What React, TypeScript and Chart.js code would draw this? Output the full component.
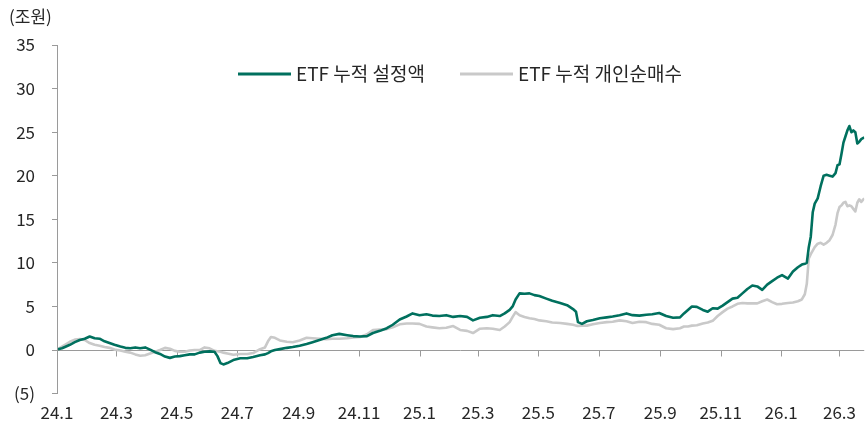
import React, { useEffect, useRef } from "react";
import { Chart, registerables } from "chart.js";

Chart.register(...registerables);

const unitLabel = "(조원)";
const seriesNames = ["ETF 누적 설정액", "ETF 누적 개인순매수"];
const seriesColors = ["#00705E", "#C9C9C9"];

const dates = [
  "2024-01-02", "2024-01-06", "2024-01-09", "2024-01-14", "2024-01-19", "2024-01-24", "2024-01-29",
  "2024-02-03", "2024-02-08", "2024-02-13", "2024-02-18", "2024-02-23", "2024-02-28",
  "2024-03-05", "2024-03-10", "2024-03-15", "2024-03-20", "2024-03-25", "2024-03-30",
  "2024-04-04", "2024-04-09", "2024-04-14", "2024-04-19", "2024-04-24", "2024-04-29",
  "2024-05-04", "2024-05-09", "2024-05-14", "2024-05-19", "2024-05-24", "2024-05-29",
  "2024-06-03", "2024-06-08", "2024-06-11", "2024-06-14", "2024-06-17", "2024-06-21", "2024-06-27",
  "2024-07-04", "2024-07-11", "2024-07-17", "2024-07-24", "2024-07-29",
  "2024-08-01", "2024-08-04", "2024-08-08", "2024-08-13", "2024-08-20", "2024-08-26",
  "2024-09-02", "2024-09-09", "2024-09-15", "2024-09-22", "2024-09-29",
  "2024-10-05", "2024-10-12", "2024-10-20", "2024-10-26",
  "2024-11-02", "2024-11-09", "2024-11-15", "2024-11-22", "2024-11-29",
  "2024-12-05", "2024-12-12", "2024-12-19", "2024-12-25",
  "2025-01-01", "2025-01-08", "2025-01-14", "2025-01-21", "2025-01-28",
  "2025-02-04", "2025-02-11", "2025-02-18", "2025-02-24",
  "2025-03-03", "2025-03-10", "2025-03-16", "2025-03-23", "2025-03-28",
  "2025-04-02", "2025-04-05", "2025-04-08", "2025-04-12", "2025-04-17", "2025-04-22", "2025-04-27",
  "2025-05-02", "2025-05-09", "2025-05-15", "2025-05-23", "2025-05-30",
  "2025-06-05", "2025-06-08", "2025-06-10", "2025-06-14", "2025-06-19", "2025-06-25",
  "2025-07-02", "2025-07-09", "2025-07-15", "2025-07-22", "2025-07-29",
  "2025-08-04", "2025-08-11", "2025-08-18", "2025-08-24", "2025-08-31",
  "2025-09-07", "2025-09-14", "2025-09-21", "2025-09-25", "2025-09-29",
  "2025-10-03", "2025-10-08", "2025-10-14", "2025-10-19", "2025-10-24", "2025-10-29",
  "2025-11-03", "2025-11-08", "2025-11-13", "2025-11-18", "2025-11-23", "2025-11-28",
  "2025-12-03", "2025-12-08", "2025-12-13", "2025-12-18", "2025-12-23", "2025-12-28",
  "2026-01-02", "2026-01-08", "2026-01-13", "2026-01-18", "2026-01-22", "2026-01-25",
  "2026-01-27", "2026-01-29", "2026-01-31",
  "2026-02-02", "2026-02-04", "2026-02-07", "2026-02-10", "2026-02-13", "2026-02-16",
  "2026-02-19", "2026-02-22", "2026-02-25", "2026-02-27",
  "2026-03-01", "2026-03-03", "2026-03-05", "2026-03-07", "2026-03-09", "2026-03-11",
  "2026-03-13", "2026-03-15", "2026-03-17", "2026-03-19", "2026-03-21", "2026-03-23", "2026-03-26",
];

const etfCreation = [
  0.1, 0.2, 0.35, 0.6, 0.9, 1.15, 1.3,
  1.55, 1.35, 1.3, 1.0, 0.8, 0.6,
  0.4, 0.25, 0.2, 0.3, 0.2, 0.3,
  0.05, -0.25, -0.45, -0.75, -0.9, -0.75,
  -0.7, -0.6, -0.5, -0.5, -0.3, -0.2,
  -0.15, -0.2, -0.7, -1.5, -1.65, -1.5, -1.15,
  -0.95, -0.95, -0.8, -0.6, -0.5,
  -0.35, -0.15, 0.0, 0.1, 0.25, 0.35,
  0.5, 0.7, 0.9, 1.15, 1.4,
  1.7, 1.85, 1.7, 1.6,
  1.55, 1.6, 1.95, 2.2, 2.5,
  2.9, 3.5, 3.85, 4.2,
  4.0, 4.1, 3.95, 3.9, 4.0,
  3.8, 3.9, 3.8, 3.4,
  3.7, 3.8, 4.0, 3.9, 4.2,
  4.6, 5.0, 5.8, 6.5, 6.45, 6.5, 6.3,
  6.2, 5.9, 5.65, 5.4, 5.15,
  4.7, 4.4, 3.2, 3.0, 3.3, 3.45,
  3.65, 3.75, 3.85, 4.0, 4.2,
  4.0, 3.95, 4.05, 4.1, 4.25,
  3.9, 3.7, 3.75, 4.2, 4.6,
  5.0, 4.95, 4.6, 4.4, 4.8, 4.75,
  5.1, 5.5, 5.9, 6.0, 6.5, 7.0,
  7.4, 7.3, 6.9, 7.5, 7.9, 8.3,
  8.6, 8.2, 9.0, 9.5, 9.8, 9.9,
  10.0, 11.8, 13.0,
  15.8, 16.8, 17.4, 18.8, 20.0, 20.1,
  20.0, 19.9, 20.3, 21.2,
  21.3, 22.5, 23.8, 24.5, 25.2, 25.7,
  25.0, 25.2, 25.0, 23.7, 23.9, 24.2, 24.4,
];

const etfRetail = [
  0.1, 0.4, 0.6, 0.95, 1.2, 1.25, 1.15,
  0.8, 0.6, 0.5, 0.35, 0.25, 0.05,
  -0.05, -0.2, -0.3, -0.5, -0.65, -0.6,
  -0.4, -0.2, 0.0, 0.25, 0.15, -0.1,
  -0.2, -0.2, -0.05, 0.0, 0.0, 0.3,
  0.2, -0.1, -0.15, -0.2, -0.3, -0.4, -0.55,
  -0.45, -0.45, -0.35, 0.1, 0.3,
  1.0, 1.5, 1.4, 1.1, 0.95, 0.9,
  1.1, 1.4, 1.35, 1.3, 1.25,
  1.3, 1.3, 1.35, 1.45,
  1.5, 1.8, 2.3, 2.35, 2.4,
  2.6, 2.95, 3.05, 3.05,
  3.0, 2.7, 2.6, 2.5, 2.55,
  2.75, 2.3, 2.2, 1.95,
  2.45, 2.5, 2.45, 2.3, 2.7,
  3.2, 3.8, 4.35, 4.0, 3.8, 3.65, 3.55,
  3.4, 3.3, 3.15, 3.1, 3.0,
  2.9, 2.8, 2.75, 2.8, 2.8, 2.95,
  3.1, 3.2, 3.25, 3.4, 3.3,
  3.1, 3.25, 3.2, 3.0, 2.9,
  2.5, 2.4, 2.5, 2.7, 2.7,
  2.8, 2.85, 3.05, 3.15, 3.35, 3.9,
  4.35, 4.75, 5.0, 5.3, 5.4, 5.35,
  5.35, 5.35, 5.6, 5.8, 5.5, 5.25,
  5.3, 5.4, 5.45, 5.6, 5.8, 6.4,
  7.6, 10.5, 11.0,
  11.4, 11.8, 12.2, 12.3, 12.1, 12.3,
  12.6, 13.2, 14.4, 15.7,
  16.4, 16.6, 16.9, 17.0, 16.5, 16.6,
  16.5, 16.2, 15.9, 16.9, 17.3, 17.0, 17.4,
];

const axisStart = "2024-01-01";
const axisEnd = "2026-03-26";
const tickDates = [
  "2024-01-01", "2024-03-01", "2024-05-01", "2024-07-01", "2024-09-01", "2024-11-01",
  "2025-01-01", "2025-03-01", "2025-05-01", "2025-07-01", "2025-09-01", "2025-11-01",
  "2026-01-01", "2026-03-01",
];
const tickLabels = [
  "24.1", "24.3", "24.5", "24.7", "24.9", "24.11",
  "25.1", "25.3", "25.5", "25.7", "25.9", "25.11",
  "26.1", "26.3",
];
const yMin = -5;
const yMax = 35;
const yStep = 5;

const FONT = '"Noto Sans CJK KR", "Noto Sans", sans-serif';
const TEXT_COLOR = "#262626";
const AXIS_COLOR = "#9A9A9A";

function dayOf(s: string): number {
  const [y, m, d] = s.split("-").map(Number);
  const [y0, m0, d0] = axisStart.split("-").map(Number);
  return Math.round((Date.UTC(y, m - 1, d) - Date.UTC(y0, m0 - 1, d0)) / 86400000);
}

const zeroAxisPlugin = {
  id: "zeroAxis",
  beforeDatasetsDraw(chart: any) {
    const { ctx, chartArea, scales } = chart;
    const y0 = Math.round(scales.y.getPixelForValue(0)) + 0.5;
    ctx.save();
    ctx.strokeStyle = AXIS_COLOR;
    ctx.lineWidth = 1;
    ctx.beginPath();
    ctx.moveTo(chartArea.left, y0);
    ctx.lineTo(chartArea.right, y0);
    tickDates.forEach((d) => {
      const x = Math.round(scales.x.getPixelForValue(dayOf(d))) + 0.5;
      ctx.moveTo(x, y0);
      ctx.lineTo(x, y0 + 6);
    });
    ctx.stroke();
    ctx.restore();
  },
};

const legendStarts = [238, 460];

const labelsPlugin = {
  id: "labels",
  afterDraw(chart: any) {
    const { ctx } = chart;
    ctx.save();
    ctx.fillStyle = TEXT_COLOR;
    ctx.textBaseline = "middle";
    ctx.textAlign = "left";
    ctx.font = `17px ${FONT}`;
    ctx.fillText(unitLabel, 9, 17);

    ctx.font = `19px ${FONT}`;
    const lineLen = 53;
    const textGap = 5;
    const y = 74;
    seriesNames.forEach((name, i) => {
      const x = legendStarts[i];
      ctx.strokeStyle = seriesColors[i];
      ctx.lineWidth = 3;
      ctx.beginPath();
      ctx.moveTo(x, y);
      ctx.lineTo(x + lineLen, y);
      ctx.stroke();
      ctx.fillStyle = TEXT_COLOR;
      ctx.fillText(name, x + lineLen + textGap, y);
    });
    ctx.restore();
  },
};

export default function App() {
  const ref = useRef<HTMLCanvasElement | null>(null);

  useEffect(() => {
    if (!ref.current) return;
    const xs = dates.map(dayOf);
    const chart = new Chart(ref.current, {
      type: "line",
      data: {
        datasets: [
          {
            label: seriesNames[0],
            data: xs.map((x, i) => ({ x, y: etfCreation[i] })),
            borderColor: seriesColors[0],
            borderWidth: 2.6,
            pointRadius: 0,
            tension: 0,
            borderJoinStyle: "round",
          },
          {
            label: seriesNames[1],
            data: xs.map((x, i) => ({ x, y: etfRetail[i] })),
            borderColor: seriesColors[1],
            borderWidth: 2.6,
            pointRadius: 0,
            tension: 0,
            borderJoinStyle: "round",
          },
        ],
      },
      options: {
        animation: false,
        responsive: false,
        layout: { padding: { top: 45, left: 0, right: 0, bottom: 0 } },
        plugins: { legend: { display: false }, tooltip: { enabled: false } },
        scales: {
          x: {
            type: "linear",
            min: dayOf(axisStart),
            max: dayOf(axisEnd),
            grid: { display: false, drawTicks: false },
            border: { display: false },
            afterBuildTicks: (s: any) => {
              s.ticks = tickDates.map((d) => ({ value: dayOf(d) }));
            },
            afterFit: (s: any) => {
              s.height = 34.4;
            },
            ticks: {
              autoSkip: false,
              maxRotation: 0,
              padding: 9,
              color: TEXT_COLOR,
              font: { family: FONT, size: 17 },
              callback: (_v: any, i: number) => tickLabels[i],
            },
          },
          y: {
            min: yMin,
            max: yMax,
            grid: { drawOnChartArea: false, drawTicks: true, tickLength: 5, color: AXIS_COLOR },
            border: { display: true, color: AXIS_COLOR },
            afterFit: (s: any) => {
              s.width = 57;
            },
            ticks: {
              stepSize: yStep,
              padding: 17,
              color: TEXT_COLOR,
              font: { family: FONT, size: 17 },
              callback: (v: any) => (Number(v) < 0 ? `(${-Number(v)})` : `${v}`),
            },
          },
        },
      },
      plugins: [zeroAxisPlugin, labelsPlugin],
    });
    return () => chart.destroy();
  }, []);

  return (
    <div style={{ position: "fixed", left: 0, top: 0, width: 865, height: 428, background: "#fff" }}>
      <canvas ref={ref} width={865} height={428} style={{ display: "block" }} />
    </div>
  );
}
